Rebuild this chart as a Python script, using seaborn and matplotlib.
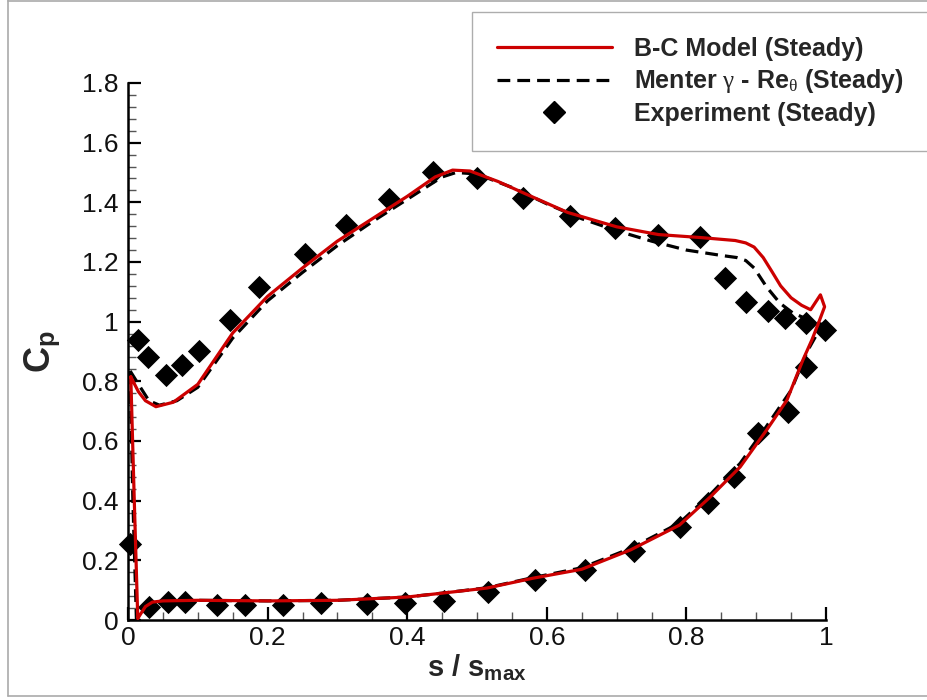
import numpy as np
import pandas as pd
import matplotlib
matplotlib.use("Agg")
import matplotlib.pyplot as plt
from matplotlib.lines import Line2D
import seaborn as sns

# ---- data -------------------------------------------------------------
# B-C model (steady): closed path, upper surface LE->TE, then lower surface TE->LE
bc_s = [0.004, 0.015, 0.025, 0.040, 0.065, 0.100, 0.150, 0.200, 0.250, 0.300,
        0.350, 0.400, 0.440, 0.465, 0.490, 0.530, 0.570, 0.630, 0.700, 0.760,
        0.820, 0.870, 0.885, 0.897, 0.910, 0.922, 0.935, 0.950, 0.965, 0.978,
        0.992, 0.998, 0.990, 0.980, 0.967, 0.944, 0.915, 0.877, 0.834, 0.790,
        0.720, 0.650, 0.580, 0.514, 0.450, 0.400, 0.300, 0.200, 0.100, 0.050,
        0.035, 0.025, 0.018, 0.014, 0.009, 0.004]
bc_cp = [0.815, 0.765, 0.735, 0.715, 0.730, 0.790, 0.962, 1.085, 1.180, 1.270,
         1.345, 1.420, 1.485, 1.508, 1.505, 1.470, 1.428, 1.366, 1.318, 1.292,
         1.282, 1.272, 1.264, 1.250, 1.215, 1.170, 1.120, 1.080, 1.055, 1.040,
         1.090, 1.050, 1.000, 0.940, 0.872, 0.737, 0.637, 0.513, 0.412, 0.318,
         0.235, 0.170, 0.140, 0.107, 0.090, 0.077, 0.066, 0.064, 0.066, 0.064,
         0.060, 0.045, 0.020, 0.005, 0.400, 0.815]

# Menter gamma-Re_theta (steady)
mt_s = [0.003, 0.015, 0.030, 0.045, 0.070, 0.100, 0.150, 0.200, 0.250, 0.300,
        0.350, 0.400, 0.450, 0.470, 0.500, 0.550, 0.600, 0.650, 0.700, 0.750,
        0.800, 0.850, 0.872, 0.885, 0.897, 0.915, 0.934, 0.952, 0.975, 0.995,
        0.985, 0.973, 0.950, 0.915, 0.877, 0.834, 0.790, 0.720, 0.650, 0.580,
        0.514, 0.450, 0.400, 0.300, 0.200, 0.100, 0.050, 0.035, 0.025, 0.017,
        0.012, 0.007, 0.003]
mt_cp = [0.835, 0.790, 0.735, 0.720, 0.735, 0.780, 0.945, 1.070, 1.165, 1.255,
         1.335, 1.410, 1.485, 1.500, 1.495, 1.450, 1.395, 1.345, 1.305, 1.270,
         1.240, 1.222, 1.215, 1.205, 1.180, 1.116, 1.062, 1.030, 1.006, 0.990,
         0.950, 0.900, 0.770, 0.650, 0.525, 0.420, 0.325, 0.240, 0.175, 0.142,
         0.108, 0.090, 0.077, 0.066, 0.064, 0.066, 0.064, 0.058, 0.040, 0.015,
         0.005, 0.400, 0.835]

# Experiment (steady)
ex_s = [0.003, 0.015, 0.029, 0.054, 0.078, 0.102, 0.146, 0.188, 0.253, 0.313,
        0.374, 0.437, 0.500, 0.566, 0.633, 0.698, 0.760, 0.820, 0.855, 0.886,
        0.917, 0.941, 0.972, 0.999,
        0.030, 0.057, 0.082, 0.127, 0.168, 0.222, 0.276, 0.342, 0.397, 0.453,
        0.516, 0.583, 0.655, 0.725, 0.791, 0.831, 0.868, 0.902, 0.946, 0.972]
ex_cp = [0.255, 0.937, 0.883, 0.821, 0.855, 0.900, 1.006, 1.115, 1.227, 1.324,
         1.410, 1.500, 1.481, 1.414, 1.354, 1.313, 1.291, 1.285, 1.146, 1.067,
         1.036, 1.011, 0.996, 0.972,
         0.045, 0.060, 0.060, 0.050, 0.050, 0.050, 0.056, 0.053, 0.056, 0.064,
         0.094, 0.134, 0.168, 0.231, 0.313, 0.391, 0.480, 0.626, 0.698, 0.849]

x_ticks = [0, 0.2, 0.4, 0.6, 0.8, 1]
x_ticklabels = ["0", "0.2", "0.4", "0.6", "0.8", "1"]
y_ticks = [0, 0.2, 0.4, 0.6, 0.8, 1.0, 1.2, 1.4, 1.6, 1.8]
y_ticklabels = ["0", "0.2", "0.4", "0.6", "0.8", "1", "1.2", "1.4", "1.6", "1.8"]

labels = ["B-C Model (Steady)",
          r"Menter $\gamma$ - Re$_{\theta}$ (Steady)",
          "Experiment (Steady)"]

# ---- style ------------------------------------------------------------
sns.set_theme(style="ticks")
plt.rcParams["font.family"] = ["Liberation Sans", "DejaVu Sans"]
plt.rcParams["mathtext.fontset"] = "custom"
plt.rcParams["mathtext.rm"] = "Liberation Sans:bold"
plt.rcParams["mathtext.it"] = "Liberation Serif"
plt.rcParams["mathtext.bf"] = "Liberation Sans:bold"

red = "#cc0000"

fig = plt.figure(figsize=(9.28, 7.0), dpi=100)
ax = fig.add_axes([128 / 928, 80 / 700, (826 - 128) / 928, (620 - 83) / 700])

bc = pd.DataFrame({"s": bc_s, "cp": bc_cp})
mt = pd.DataFrame({"s": mt_s, "cp": mt_cp})
ex = pd.DataFrame({"s": ex_s, "cp": ex_cp})

sns.lineplot(data=mt, x="s", y="cp", sort=False, estimator=None, ax=ax,
             color="black", linewidth=2.3, dashes=False, zorder=3)
ax.lines[-1].set_dashes([4, 2.2])
ax.lines[-1].set_clip_on(False)
sns.lineplot(data=bc, x="s", y="cp", sort=False, estimator=None, ax=ax,
             color=red, linewidth=2.3, zorder=4)
ax.lines[-1].set_clip_on(False)
sns.scatterplot(data=ex, x="s", y="cp", marker="D", s=140, color="black",
                linewidth=0, ax=ax, zorder=2)
for c in ax.collections:
    c.set_clip_on(False)

ax.set_xlim(0, 1)
ax.set_ylim(0, 1.8)
ax.set_xticks(x_ticks)
ax.set_xticklabels(x_ticklabels)
ax.set_yticks(y_ticks)
ax.set_yticklabels(y_ticklabels)
ax.set_xticks(np.arange(0, 1.0001, 0.05), minor=True)
ax.set_yticks(np.arange(0, 1.8001, 0.04), minor=True)

for side in ["top", "right"]:
    ax.spines[side].set_visible(False)
for side in ["left", "bottom"]:
    ax.spines[side].set_color("black")
    ax.spines[side].set_linewidth(1.8)

ax.tick_params(axis="both", which="major", direction="in", length=9.5,
               width=1.6, color="black", labelsize=19, labelcolor="#111111")
ax.tick_params(axis="both", which="minor", direction="in", length=5.5,
               width=1.0, color="#555555")
ax.tick_params(axis="y", which="major", pad=7)
ax.tick_params(axis="x", which="major", pad=4)

ax.set_xlabel(r"s / s$_{\mathregular{max}}$", fontsize=21, fontweight="bold",
              labelpad=2)
ax.set_ylabel(r"C$_{\mathregular{p}}$", fontsize=26, fontweight="bold",
              labelpad=14)

handles = [Line2D([], [], color=red, lw=2.3),
           Line2D([], [], color="black", lw=2.3, dashes=[4, 2.2]),
           Line2D([], [], color="black", marker="D", markersize=11.5, lw=0)]
leg = fig.legend(handles, labels, loc="upper left",
                 bbox_to_anchor=(472 / 928, 1 - 12 / 700),
                 prop={"weight": "bold", "size": 18},
                 frameon=True, fancybox=False, handlelength=4.6,
                 handletextpad=0.88, borderpad=1.0, labelspacing=0.25,
                 borderaxespad=0)
leg.get_frame().set_edgecolor("#999999")
leg.get_frame().set_linewidth(1.0)

# outer frame of the picture
fig.add_artist(Line2D([8 / 928, 8 / 928], [4 / 700, 1], color="#aaaaaa",
                      lw=1.2, transform=fig.transFigure))
fig.add_artist(Line2D([8 / 928, 1], [1 - 1 / 700, 1 - 1 / 700],
                      color="#aaaaaa", lw=1.2, transform=fig.transFigure))
fig.add_artist(Line2D([8 / 928, 1], [4 / 700, 4 / 700], color="#aaaaaa",
                      lw=1.2, transform=fig.transFigure))

fig.savefig("out.png", dpi=100)
